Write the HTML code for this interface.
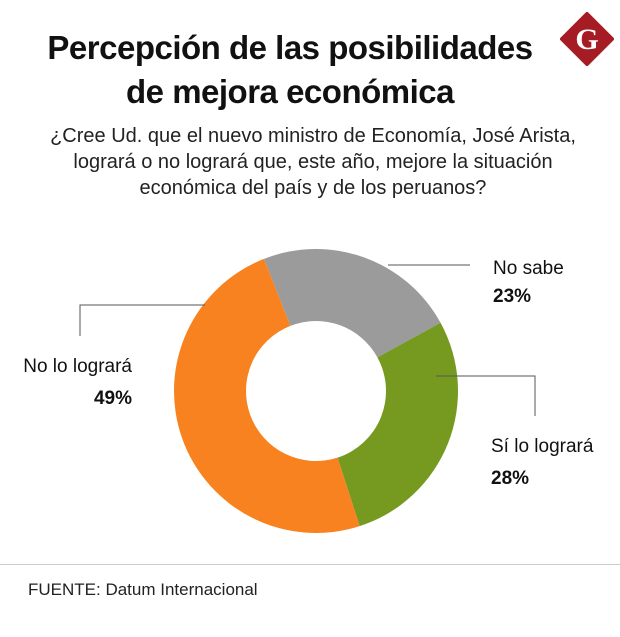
<!DOCTYPE html>
<html><head><meta charset="utf-8"><style>
body{margin:0;width:620px;height:637px;background:#fff;font-family:"Liberation Sans",sans-serif;position:relative;overflow:hidden}
.t{position:absolute;color:#111}
</style></head><body>
<div class="t" style="left:0;width:580px;top:26px;text-align:center;font-size:33px;font-weight:bold;line-height:44px;letter-spacing:-0.5px">Percepción de las posibilidades<br>de mejora económica</div>
<svg style="position:absolute;left:560px;top:12px" width="54" height="54" viewBox="0 0 54 54"><polygon points="27,2 52,27 27,52 2,27" fill="#a61c24" stroke="#a61c24" stroke-width="4" stroke-linejoin="round"/><text x="27" y="37" text-anchor="middle" font-family="Liberation Serif" font-weight="bold" font-size="30" fill="#fff">G</text></svg>
<div class="t" style="left:0;width:626px;top:123px;text-align:center;font-size:20px;line-height:26px;color:#222">¿Cree Ud. que el nuevo ministro de Economía, José Arista,<br>logrará o no logrará que, este año, mejore la situación<br>económica del país y de los peruanos?</div>
<svg id="c" style="position:absolute;left:0;top:0" width="620" height="637"></svg>
<div class="t" style="left:493px;top:255px;font-size:19px;line-height:28px">No sabe<br><b>23%</b></div>
<div class="t" style="left:491px;top:431px;font-size:19px;line-height:32px">Sí lo logrará<br><b>28%</b></div>
<div class="t" style="left:22px;top:351px;width:110px;text-align:right;font-size:19px;line-height:32px">No lo logrará<br><b>49%</b></div>
<div style="position:absolute;left:0;top:564px;width:620px;height:1px;background:#ccc"></div>
<div class="t" style="left:28px;top:580px;font-size:17px;color:#222">FUENTE: Datum Internacional</div>
<script>
const categories=["No sabe","Sí lo logrará","No lo logrará"];
const values=[23,28,49];
const colors=["#9b9b9b","#769a1f","#f7821f"];
const svg=document.getElementById('c');
const cx=316,cy=391,R=142,r=70,start=-21.5;
const total=values.reduce((a,b)=>a+b,0);
function pt(a,rad){const t=a*Math.PI/180;return [cx+rad*Math.sin(t),cy-rad*Math.cos(t)];}
let a=start;
values.forEach((v,i)=>{
  const b=a+v/total*360;const lg=(b-a)>180?1:0;
  const [x1,y1]=pt(a,R),[x2,y2]=pt(b,R),[x3,y3]=pt(b,r),[x4,y4]=pt(a,r);
  const p=document.createElementNS('http://www.w3.org/2000/svg','path');
  p.setAttribute('d',`M${x1},${y1}A${R},${R} 0 ${lg} 1 ${x2},${y2}L${x3},${y3}A${r},${r} 0 ${lg} 0 ${x4},${y4}Z`);
  p.setAttribute('fill',colors[i]);
  
  
  svg.appendChild(p);a=b;
});
[["M388,265H470","leader-no-sabe"],["M436,376H535V416","leader-si-lo-lograra"],["M205,305H80V336","leader-no-lo-lograra"]].forEach(([d,n])=>{
  const p=document.createElementNS('http://www.w3.org/2000/svg','path');
  p.setAttribute('d',d);p.setAttribute('stroke','#555');p.setAttribute('fill','none');p.setAttribute('stroke-width','1');
  
  
  svg.appendChild(p);
});
</script>
</body></html>
